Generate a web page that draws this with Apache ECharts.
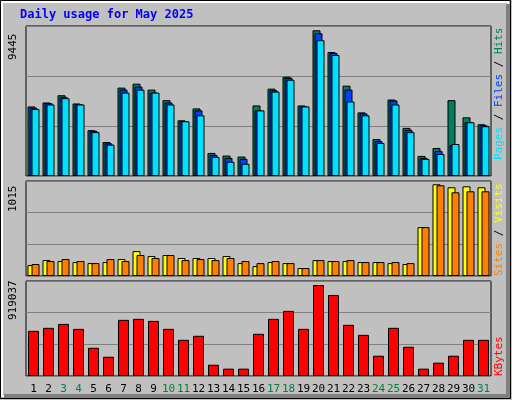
<!DOCTYPE html>
<html>
<head><meta charset="utf-8"></head>
<body style="margin:0;background:#fff">
<div id="c" style="width:512px;height:400px"></div>
<script src="https://cdn.jsdelivr.net/npm/echarts@6/dist/echarts.min.js"></script>
<script>
var days = [];
for (var d = 1; d <= 31; d++) days.push(String(d));
var weekend = ['3','4','10','11','17','18','24','25','31'];

var hits  = [4380,4630,5086,4567,2885,2138,5564,5813,5439,4775,3508,4256,1453,1287,1225,4443,5501,6249,4443,9176,7806,5688,4007,2325,4816,3031,1266,1765,4775,3695,3259];
var files = [4297,4588,4982,4526,2844,2055,5439,5626,5252,4630,3446,4131,1329,1142,1080,4131,5398,6186,4380,8989,7743,5439,3944,2201,4754,2906,1142,1578,1951,3384,3197];
var pages = [4214,4505,4900,4505,2761,1972,5252,5439,5252,4505,3446,3820,1204,893,768,4131,5315,6062,4380,8553,7619,4692,3820,2076,4505,2761,1080,1391,2014,3384,3135];
var visits = [117,170,160,149,138,149,181,266,213,224,192,192,192,213,138,106,149,138,85,170,160,160,149,149,138,128,522,980,948,958,948];
var sites  = [128,160,181,160,138,181,160,224,192,224,170,181,170,192,160,138,160,138,85,170,160,170,149,149,149,138,522,969,894,905,905];
var kbytes = [437000,466000,504000,456000,273000,186000,543000,553000,533000,456000,350000,389000,109000,71000,71000,408000,553000,630000,456000,880000,784000,495000,398000,196000,466000,283000,71000,129000,196000,350000,350000];
var maxHits = 9445, maxVisits = 1015, maxKB = 919037;

var chart = echarts.init(document.getElementById('c'));
var font = 'DejaVu Sans Mono';
var grids = [
  {left: 26, right: 21, top: 26, height: 150},
  {left: 26, right: 21, top: 181, height: 95},
  {left: 26, right: 21, top: 281, height: 95}
];
grids.forEach(function (g) { g.show = true; g.borderColor = '#000'; g.borderWidth = 1; g.backgroundColor = '#c0c0c0'; });

function xa(i, show) {
  return {type: 'category', gridIndex: i, data: days,
    axisLine: {show: false}, axisTick: {show: false},
    axisLabel: {show: show, fontFamily: font, fontSize: 11, margin: 8, interval: 0,
      color: function (v) { return weekend.indexOf(v) >= 0 ? '#008040' : '#000'; }}};
}
function ya(i, max) {
  return {type: 'value', gridIndex: i, min: 0, max: max, interval: max / 3,
    axisLabel: {show: false}, axisLine: {show: false}, axisTick: {show: false},
    splitLine: {lineStyle: {color: '#808080', width: 1}}};
}
function bar(name, data, i, color, w, gap) {
  return {type: 'bar', name: name, xAxisIndex: i, yAxisIndex: i, data: data,
    barWidth: w, barGap: gap, animation: false,
    itemStyle: {color: color, borderColor: '#000', borderWidth: 1}};
}
function vtext(x, y, parts) {
  return {type: 'text', x: x, y: y, rotation: Math.PI / 2,
    style: {rich: {a: {fontFamily: font, fontSize: 11}}, text: '',
      richText: null, fontFamily: font, fontSize: 11}};
}

chart.setOption({
  backgroundColor: '#c0c0c0',
  animation: false,
  grid: grids,
  xAxis: [xa(0, false), xa(1, false), xa(2, true)],
  yAxis: [ya(0, maxHits), ya(1, maxVisits), ya(2, maxKB)],
  series: [
    bar('Hits', hits, 0, '#00805c', 8, '-75%'),
    bar('Files', files, 0, '#0040ff', 8, '-75%'),
    bar('Pages', pages, 0, '#00e0ff', 8, '-75%'),
    bar('Visits', visits, 1, '#ffff00', 8, '-50%'),
    bar('Sites', sites, 1, '#ff8000', 8, '-50%'),
    bar('KBytes', kbytes, 2, '#ff0000', 11, '0%')
  ],
  graphic: [
    {type: 'rect', shape: {x: 0.5, y: 0.5, width: 510, height: 398}, silent: true, z: -10,
      style: {fill: 'none', stroke: '#000', lineWidth: 1}},
    {type: 'rect', shape: {x: 2, y: 2, width: 506, height: 394}, silent: true, z: -10,
      style: {fill: 'none', stroke: '#fff', lineWidth: 2}},
    {type: 'rect', shape: {x: 506, y: 4, width: 4, height: 394}, silent: true, style: {fill: '#808080'}},
    {type: 'rect', shape: {x: 4, y: 394, width: 506, height: 4}, silent: true, style: {fill: '#808080'}},
    {type: 'text', x: 20, y: 9, style: {text: 'Daily usage for May 2025', fill: '#0000ff',
      fontFamily: font, fontSize: 12, fontWeight: 'bold'}},
    {type: 'text', x: 8, y: 60, rotation: Math.PI / 2, style: {text: String(maxHits), fill: '#000', fontFamily: font, fontSize: 11}},
    {type: 'text', x: 8, y: 212, rotation: Math.PI / 2, style: {text: String(maxVisits), fill: '#000', fontFamily: font, fontSize: 11}},
    {type: 'text', x: 8, y: 320, rotation: Math.PI / 2, style: {text: String(maxKB), fill: '#000', fontFamily: font, fontSize: 11}},
    {type: 'text', x: 494, y: 160, rotation: Math.PI / 2, style: {
      text: '{p|Pages}{s| / }{f|Files}{s| / }{h|Hits}', fontFamily: font, fontSize: 11,
      rich: {p: {fill: '#00e0ff', fontFamily: font, fontSize: 11}, s: {fill: '#000', fontFamily: font, fontSize: 11},
             f: {fill: '#0040ff', fontFamily: font, fontSize: 11}, h: {fill: '#00805c', fontFamily: font, fontSize: 11}}}},
    {type: 'text', x: 494, y: 276, rotation: Math.PI / 2, style: {
      text: '{o|Sites}{s| / }{y|Visits}', fontFamily: font, fontSize: 11,
      rich: {o: {fill: '#ff8000', fontFamily: font, fontSize: 11}, s: {fill: '#000', fontFamily: font, fontSize: 11},
             y: {fill: '#ffff00', fontFamily: font, fontSize: 11}}}},
    {type: 'text', x: 494, y: 376, rotation: Math.PI / 2, style: {text: 'KBytes', fill: '#ff0000', fontFamily: font, fontSize: 11}}
  ]
});
</script>
</body>
</html>
